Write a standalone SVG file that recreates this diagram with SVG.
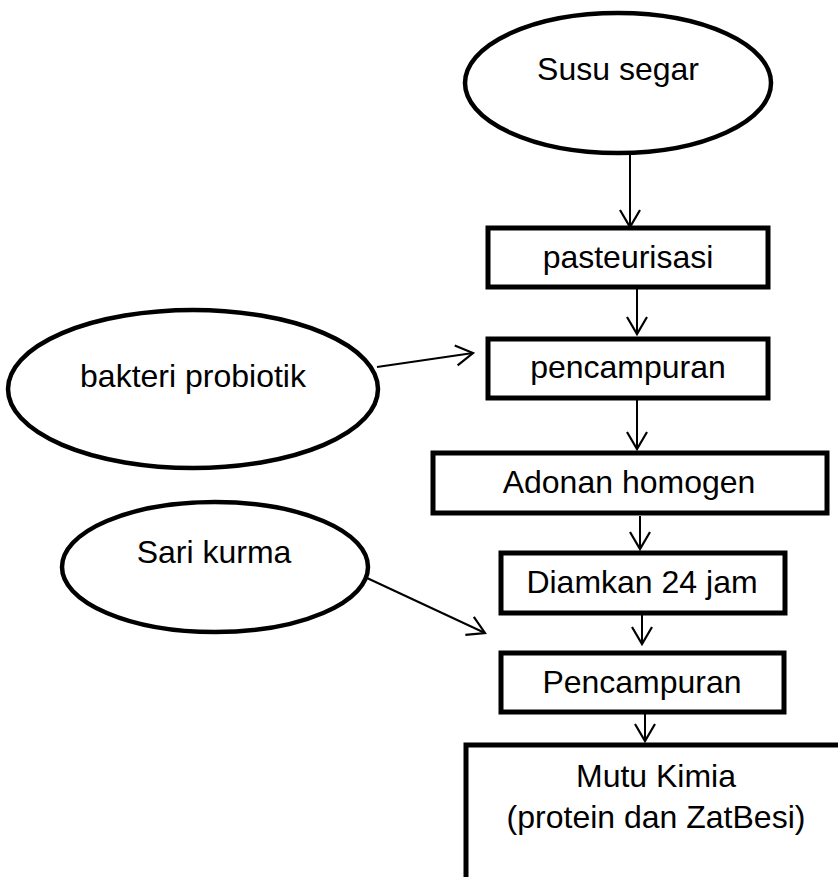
<svg xmlns="http://www.w3.org/2000/svg" width="838" height="877" viewBox="0 0 838 877">
<style>
.box{fill:#fff;stroke:#000;stroke-width:5}
.ell{fill:#fff;stroke:#000;stroke-width:4.5}
.t{font-family:"Liberation Sans",Arial,sans-serif;font-size:32px;fill:#000;text-anchor:middle}
.c{stroke:#000;stroke-width:2;fill:none;marker-end:url(#ah)}
</style>
<defs>
<marker id="ah" markerUnits="userSpaceOnUse" viewBox="-12 -12 24 24" markerWidth="24" markerHeight="24" refX="0" refY="0" orient="auto" overflow="visible">
<path d="M-17,-10 L0,0 L-17,10" fill="none" stroke="#000" stroke-width="2.2"/>
</marker>
</defs>
<rect width="838" height="877" fill="#fff"/>
<g id="susu"><ellipse class="ell" cx="618" cy="83" rx="153" ry="70"/><text class="t" x="618" y="80">Susu segar</text></g>
<g id="pasteurisasi"><rect class="box" x="488" y="228" width="280" height="59"/><text class="t" x="628" y="268">pasteurisasi</text></g>
<g id="bakteri"><ellipse class="ell" cx="193" cy="389" rx="185" ry="79"/><text class="t" x="193" y="387">bakteri probiotik</text></g>
<g id="pencampuran1"><rect class="box" x="488" y="339" width="280" height="59"/><text class="t" x="628" y="378">pencampuran</text></g>
<g id="adonan"><rect class="box" x="433" y="453" width="394" height="60"/><text class="t" x="629" y="493">Adonan homogen</text></g>
<g id="sari"><ellipse class="ell" cx="215" cy="567" rx="153" ry="65"/><text class="t" x="214" y="563">Sari kurma</text></g>
<g id="diamkan"><rect class="box" x="501" y="553" width="284" height="60"/><text class="t" x="642" y="593">Diamkan 24 jam</text></g>
<g id="pencampuran2"><rect class="box" x="501" y="653" width="283" height="59"/><text class="t" x="642" y="693">Pencampuran</text></g>
<g id="mutu"><rect class="box" x="466" y="745" width="400" height="160"/><text class="t" x="656" y="787">Mutu Kimia</text><text class="t" x="656" y="828">(protein dan ZatBesi)</text></g>
<g id="connectors">
<line class="c" x1="630" y1="153" x2="630" y2="227"/>
<line class="c" x1="637" y1="287" x2="637" y2="334"/>
<line class="c" x1="377" y1="367" x2="473" y2="353"/>
<line class="c" x1="637" y1="400" x2="637" y2="449"/>
<line class="c" x1="640" y1="516" x2="640" y2="549"/>
<line class="c" x1="367" y1="578" x2="485" y2="633"/>
<line class="c" x1="642" y1="615" x2="642" y2="644"/>
<line class="c" x1="645" y1="714" x2="645" y2="741"/>
</g>
</svg>
